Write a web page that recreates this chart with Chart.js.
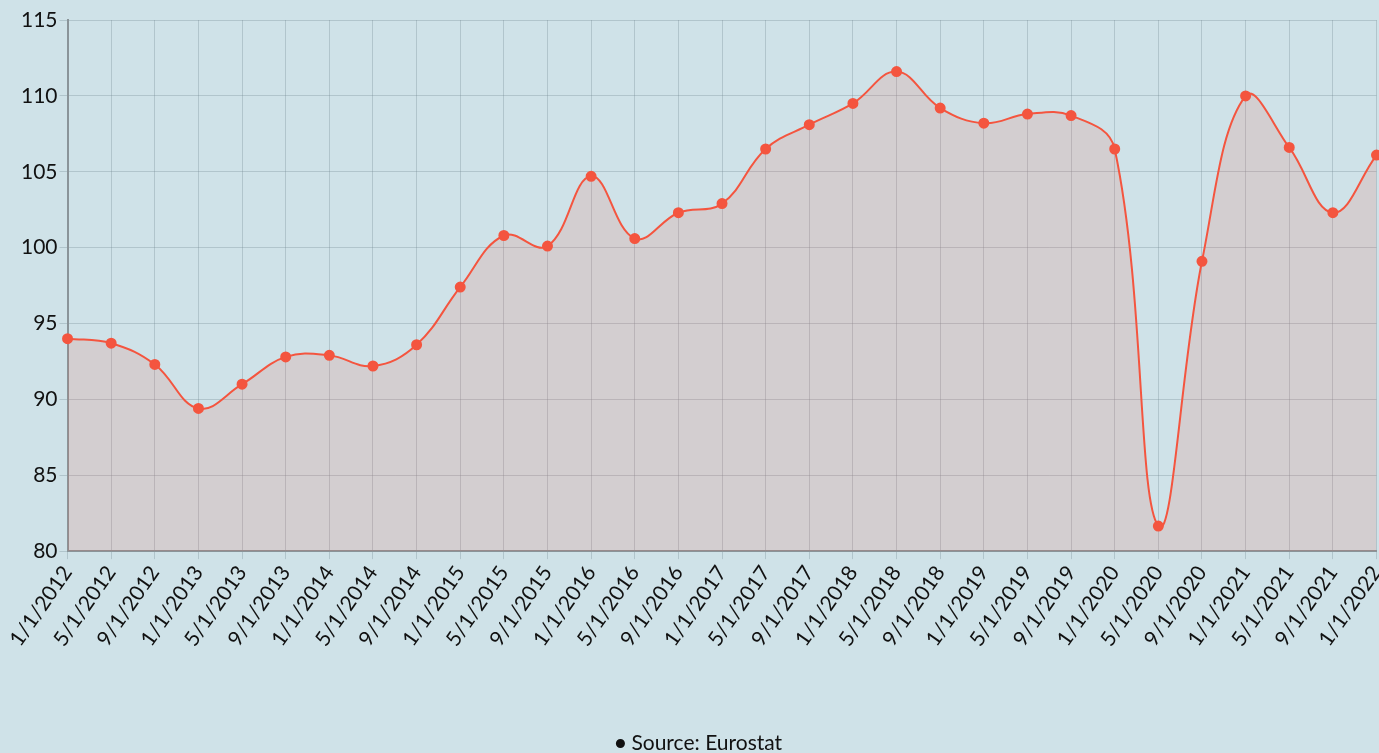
<!DOCTYPE html>
<html lang="en">
<head>
  <meta charset="UTF-8">
  <title>Eurostat index</title>
  <script src="https://cdn.jsdelivr.net/npm/chart.js@4/dist/chart.umd.min.js"></script>
  <style>
    html, body { margin: 0; padding: 0; background: #cfe2e8; overflow: hidden; }
    /* a bit wider than the window so the last point sits on the right edge */
    #wrap { width: 1383px; height: 753px; position: relative; }
  </style>
</head>
<body>
<div id="wrap"><canvas id="chart"></canvas></div>
<script>
  // dates every four months
  var labels = [
    '1/1/2012', '5/1/2012', '9/1/2012',
    '1/1/2013', '5/1/2013', '9/1/2013',
    '1/1/2014', '5/1/2014', '9/1/2014',
    '1/1/2015', '5/1/2015', '9/1/2015',
    '1/1/2016', '5/1/2016', '9/1/2016',
    '1/1/2017', '5/1/2017', '9/1/2017',
    '1/1/2018', '5/1/2018', '9/1/2018',
    '1/1/2019', '5/1/2019', '9/1/2019',
    '1/1/2020', '5/1/2020', '9/1/2020',
    '1/1/2021', '5/1/2021', '9/1/2021',
    '1/1/2022'
  ];
  var values = [
    94.0, 93.7, 92.3,
    89.4, 91.0, 92.8,
    92.9, 92.2, 93.6,
    97.4, 100.8, 100.1,
    104.7, 100.6, 102.3,
    102.9, 106.5, 108.1,
    109.5, 111.6, 109.2,
    108.2, 108.8, 108.7,
    106.5, 81.65, 99.1,
    110.0, 106.6, 102.3,
    106.1
  ];
  var seriesName = 'Source: Eurostat';
  var yMin = 80, yMax = 115, yStep = 5;

  Chart.defaults.font.family = 'Lato, sans-serif';
  Chart.defaults.color = '#111';

  new Chart(document.getElementById('chart'), {
    type: 'line',
    data: {
      labels: labels,
      datasets: [{
        label: seriesName,
        data: values,
        borderColor: '#f4553f',
        backgroundColor: 'rgba(244,85,63,0.14)',
        pointBackgroundColor: '#f4553f',
        pointBorderColor: '#f4553f',
        pointRadius: 4.5,
        borderWidth: 2,
        fill: 'origin',
        tension: 0.4
      }]
    },
    options: {
      responsive: true,
      maintainAspectRatio: false,
      animation: false,
      layout: { padding: { top: 20, right: 0, left: 19, bottom: -11 } },
      plugins: {
        legend: {
          position: 'bottom',
          labels: {
            usePointStyle: true,
            pointStyle: 'circle',
            boxWidth: 1,
            boxHeight: 5,
            color: '#111',
            font: { size: 21 },
            padding: 0,
            // black bullet in the legend
            generateLabels: function(chart) {
              var items = Chart.defaults.plugins.legend.labels.generateLabels(chart);
              items.forEach(function(it) {
                it.fillStyle = '#111';
                it.strokeStyle = '#111';
              });
              return items;
            }
          }
        },
        tooltip: { enabled: false }
      },
      scales: {
        x: {
          offset: false,
          grid: { color: 'rgba(110,130,140,0.3)', tickLength: 8 },
          border: { color: '#8a9499', width: 2 },
          ticks: {
            autoSkip: false,
            minRotation: 55,
            maxRotation: 55,
            padding: 2,
            font: { size: 21 },
            color: '#111'
          },
          afterFit: function(axis) {
            axis.paddingRight = 0;
            axis.height += 80;
          }
        },
        y: {
          min: yMin,
          max: yMax,
          grid: { color: 'rgba(110,130,140,0.3)', tickLength: 8 },
          border: { color: '#8a9499', width: 2 },
          ticks: {
            stepSize: yStep,
            padding: 2,
            font: { size: 21 },
            color: '#111'
          }
        }
      }
    }
  });
</script>
</body>
</html>
